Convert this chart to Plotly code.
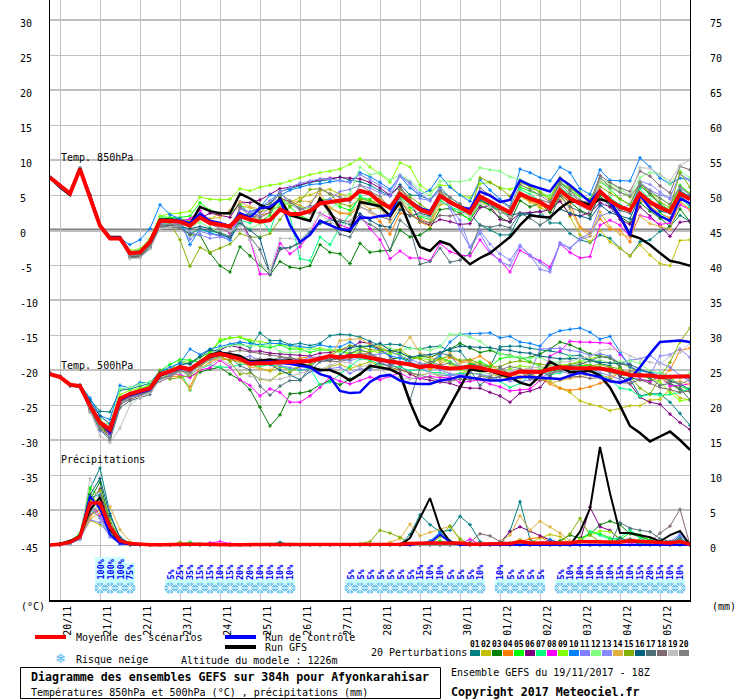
import plotly.graph_objects as go

MONO = "DejaVu Sans Mono"
COLORS = ["#008080","#c0c000","#008000","#ff8000","#00ff00","#800080","#00ff80","#ff00ff","#80ff00","#0080ff",
          "#8080ff","#80ff80","#8888ff","#e0b040","#80b000","#006080","#507078","#806870","#c0c0c0","#808080"]
DAY_LABELS = ["20/11","21/11","22/11","23/11","24/11","25/11","26/11","27/11","28/11","29/11","30/11","01/12","02/12","03/12","04/12","05/12"]
DAY_STEPS = [1,5,9,13,17,21,25,29,33,37,41,45,49,53,57,61]
LEFT_TICKS = [30,25,20,15,10,5,0,-5,-10,-15,-20,-25,-30,-35,-40,-45]
RIGHT_TICKS = [75,70,65,60,55,50,45,40,35,30,25,20,15,10,5,0]
HEAVY_GRID = [30,20,10,-10,-20,-30,-40]

# Temperature 850 hPa (degC), one value per 6 h step
T850_MEAN = [7.5,6.4,5.2,8.7,4.8,0.6,-1.2,-1.2,-3.3,-3.2,-1.7,1.3,1.3,1.2,0.6,1.8,1.0,0.7,0.5,2.0,1.5,1.2,1.4,2.9,2.3,2.3,2.7,3.8,4.0,4.2,4.4,5.6,5.2,
             4.0,3.2,5.2,4.0,2.9,2.4,4.9,4.0,3.2,2.5,4.8,4.0,3.2,2.5,5.2,4.5,4.0,3.1,5.7,4.5,3.8,3.1,5.5,4.2,3.3,2.8,5.2,4.0,3.2,2.6,5.2,4.4]
T850_GFS = [7.5,6.1,5.0,8.8,4.8,0.6,-1.0,-1.0,-3.2,-3.1,-1.6,1.5,1.5,1.3,0.8,3.3,2.7,2.4,2.4,5.2,4.5,3.6,3.0,4.5,2.1,1.7,1.3,4.5,2.6,0.2,-0.2,4.0,3.7,
            3.4,2.0,4.0,0.5,-2.4,-3.0,-1.6,-2.1,-3.6,-4.9,-4.0,-3.3,-2.1,-1.0,0.7,2.1,1.9,1.8,3.1,4.1,4.0,3.6,4.4,4.0,1.9,-0.7,-1.2,-2.1,-3.3,-4.4,-4.7,-5.1]
T850_CTRL = [7.5,6.2,5.1,8.7,4.9,0.7,-1.1,-1.1,-3.3,-3.2,-1.7,1.4,1.4,1.3,1.0,2.3,1.3,1.0,0.5,2.4,1.8,3.1,3.3,4.3,0.7,-1.7,-0.7,1.3,0.7,0.1,0.0,1.8,1.7,
             2.0,2.1,5.2,4.1,3.1,2.7,5.0,3.9,3.3,3.0,5.5,4.9,4.0,4.3,7.1,6.4,6.0,5.5,7.4,6.4,5.2,4.0,5.7,4.0,1.9,-0.7,5.0,3.1,2.0,1.3,4.5,3.8]
T850_HEAD = [7.6,6.3,5.3,8.9,5.0,0.7,-1.1,-1.2]
T850_M = {}
T850_M[1] = T850_HEAD + [-3.6,-3.5,-2.0,1.4,1.6,
    1.6,1.3,2.3,1.2,0.8,0.2,1.6,2.4,
    3.3,3.8,5.5,5.9,6.3,6.8,7.0,7.2,7.6,7.1,6.9,6.4,
    5.6,4.9,6.5,5.0,4.9,4.3,6.1,4.6,3.7,2.4,0.7,0.0,-0.7,-0.7,2.1,2.4,
    2.7,1.0,1.0,-0.5,-1.4,-1.8,-0.7,-1.2,-2.6,-3.7,-1.7,-1.4,-0.2,0.5,2.1,1.2]
T850_M[2] = T850_HEAD + [-3.2,-3.0,-1.5,1.5,1.5,
    1.4,1.4,2.0,1.5,2.4,2.3,3.4,3.2,
    2.6,2.9,3.3,4.0,4.6,5.0,5.6,5.8,5.1,4.9,4.2,3.9,
    4.4,3.3,4.3,2.7,1.1,0.6,3.6,3.9,3.4,2.7,4.1,3.4,2.5,2.6,4.8,4.0,
    3.2,2.6,4.3,1.9,-0.7,-1.7,0.0,-1.7,-2.6,-3.7,-2.1,-3.6,-4.8,-5.1,-1.5,-1.4]
T850_M[3] = T850_HEAD + [-3.8,-3.7,-2.3,0.8,0.6,
    0.4,-0.7,-0.7,-3.3,-5.1,-6.0,-2.4,-3.7,
    -5.0,-6.4,-4.5,-5.3,-5.5,-5.1,-2.1,-3.2,-3.4,-4.8,-1.9,-3.2,
    -3.0,-2.9,0.0,-1.0,-0.7,0.2,2.9,3.1,2.4,1.5,3.5,2.9,1.8,1.1,4.2,3.3,
    3.8,2.5,5.0,4.0,2.8,2.2,4.9,3.4,1.9,1.0,3.9,2.7,1.7,0.5,3.0,1.2]
T850_M[4] = T850_HEAD + [-3.4,-3.2,-1.8,1.0,1.1,
    1.2,1.0,1.9,0.9,0.6,0.4,2.4,1.9,
    2.1,2.5,4.4,4.1,3.5,2.8,4.5,3.1,2.4,2.2,3.4,2.6,
    1.2,-0.6,2.4,2.1,1.6,1.0,5.0,4.1,3.3,3.0,4.2,3.4,2.6,2.0,4.9,4.2,
    3.5,3.0,5.2,3.8,0.4,-0.4,1.6,0.1,0.0,-1.7,4.3,3.4,2.4,1.7,4.0,3.0]
T850_M[5] = T850_HEAD + [-3.3,-3.0,-1.4,1.9,1.8,
    1.8,2.0,3.9,2.8,2.4,2.4,3.7,2.3,
    1.2,2.1,4.8,3.3,2.1,1.4,4.3,4.4,3.3,2.8,4.6,4.4,
    3.2,2.0,4.6,3.2,1.9,1.5,4.1,3.3,2.3,1.5,4.2,3.5,2.7,2.0,6.1,5.6,5.0,4.9,6.7,5.6,
    4.8,4.4,6.9,5.9,4.4,3.6,6.4,5.0,3.8,2.8,6.4,5.2]
T850_M[6] = T850_HEAD + [-3.5,-3.4,-1.9,1.2,1.2,
    1.1,0.8,1.7,2.4,2.1,1.8,4.0,3.9,
    4.3,5.1,5.9,6.1,6.5,6.9,7.2,7.4,7.5,7.4,7.3,6.8,
    6.0,5.0,6.2,4.1,1.2,0.7,1.5,1.2,0.8,0.9,3.2,3.4,1.5,1.2,2.4,2.5,
    2.6,2.9,4.1,2.2,2.0,2.5,3.9,3.3,1.5,0.8,3.3,2.0,0.6,-0.9,1.1,1.3]
T850_M[7] = T850_HEAD + [-3.7,-3.5,-2.4,0.9,0.9,
    0.8,-0.4,0.0,-0.2,-0.4,-1.0,1.4,1.0,
    1.6,-0.1,3.9,2.0,-4.1,-4.4,-1.0,-2.1,0.4,2.3,4.9,3.9,
    3.1,2.2,4.8,3.7,2.1,1.8,4.4,3.3,2.8,2.0,4.4,3.6,2.9,2.2,5.8,5.1,
    4.2,3.2,6.1,5.0,3.9,2.7,5.1,4.6,3.6,2.9,5.9,4.3,2.5,1.2,4.9,3.2]
T850_M[8] = T850_HEAD + [-3.2,-3.1,-1.8,1.6,1.4,
    1.2,1.6,2.8,1.1,0.5,-0.5,1.8,-1.4,
    -6.3,-6.3,-1.9,-3.4,-2.4,-0.5,2.4,1.7,0.7,0.2,2.1,0.2,
    -1.4,-4.1,-3.0,-4.0,-4.0,-4.4,-1.9,-3.1,-3.6,-3.7,-1.4,-3.3,-4.3,-6.0,-2.9,-3.7,
    -4.4,-5.3,-2.0,-3.2,-4.0,-3.8,0.7,1.4,0.7,-1.0,2.1,1.7,0.8,1.0,3.6,2.9]
T850_M[9] = T850_HEAD + [-2.9,-2.7,-1.2,2.0,2.3,
    2.4,2.7,4.7,4.4,4.3,4.4,5.9,5.6,
    6.1,6.4,6.6,7.0,7.5,7.9,8.2,8.4,8.7,9.4,10.2,9.0,
    8.0,6.8,9.6,9.0,6.4,5.5,6.4,6.3,5.0,4.6,6.6,6.8,6.0,5.8,6.4,5.9,
    5.6,4.5,6.6,6.1,5.4,4.0,6.9,6.3,5.4,4.7,6.6,5.2,4.6,3.6,5.9,5.3]
T850_M[10] = T850_HEAD + [-2.1,-1.4,0.2,3.6,2.2,
    1.6,-2.1,0.2,-0.4,-0.8,-1.5,1.5,2.6,
    3.2,5.0,4.9,5.7,6.1,6.5,6.6,6.9,7.1,6.8,8.2,7.6,
    6.8,5.8,7.7,6.0,5.1,5.7,7.8,6.1,5.0,4.1,7.2,5.7,4.4,3.3,8.7,8.2,7.5,7.0,9.0,8.2,
    5.9,5.1,8.6,7.1,7.0,7.0,10.3,9.0,7.4,6.6,7.4,7.2]
T850_M[11] = T850_HEAD + [-3.6,-3.4,-2.0,0.9,0.7,
    0.5,-1.3,-0.2,-0.6,-0.8,-1.1,3.0,2.5,
    3.2,4.2,5.4,3.7,2.9,3.2,4.1,4.4,5.5,5.8,6.4,6.0,
    5.3,4.8,7.7,6.6,4.5,4.2,6.0,3.0,0.1,-2.5,-0.5,-3.0,-4.5,-5.1,-2.3,-3.6,
    -4.6,-5.7,-1.8,-2.6,-1.2,-0.5,3.4,3.9,3.2,2.7,6.8,5.7,5.0,4.6,8.0,7.1]
T850_M[12] = T850_HEAD + [-3.1,-2.9,-1.5,1.7,1.6,
    1.0,0.4,1.1,0.3,-0.4,-1.0,1.1,0.2,
    0.9,1.6,4.1,3.6,3.3,3.0,2.2,2.9,4.2,5.2,9.0,7.9,
    8.2,7.1,7.9,7.0,5.7,4.9,7.0,6.9,6.9,7.2,8.9,8.6,8.4,7.6,7.2,6.5,
    5.4,4.8,7.0,5.8,5.0,4.0,7.3,6.7,5.8,5.0,7.5,8.2,8.0,6.5,8.5,7.4]
T850_M[13] = T850_HEAD + [-3.4,-3.3,-2.0,1.0,1.0,
    0.9,-0.4,-0.7,-1.2,-1.0,-1.3,3.3,2.5,
    2.0,3.2,5.4,6.1,6.7,7.0,7.3,7.3,7.0,6.8,7.9,7.2,
    6.4,5.5,7.8,6.8,5.2,4.2,5.7,3.3,1.4,-2.4,-0.1,-2.0,-3.4,-4.3,-2.2,-3.6,
    -5.6,-6.0,-2.0,-2.6,-1.4,-0.9,2.0,2.5,3.0,3.7,7.0,6.5,5.4,4.4,6.0,5.1]
T850_M[14] = T850_HEAD + [-3.3,-3.2,-1.8,1.1,1.0,
    1.1,1.2,2.1,1.6,1.8,2.8,4.0,3.3,
    3.0,3.1,4.6,3.9,4.2,4.0,5.2,3.2,2.5,2.4,3.9,3.0,
    3.2,1.1,3.3,2.5,1.2,0.5,4.6,3.8,3.0,2.4,4.4,3.8,2.9,2.2,5.0,4.5,
    3.7,3.2,4.9,3.0,0.2,-0.8,2.6,0.4,-0.6,-1.0,2.0,0.9,0.5,0.1,4.0,2.9]
T850_M[15] = T850_HEAD + [-3.5,-3.3,-1.7,1.2,1.0,
    -1.4,-5.2,-2.5,-3.2,-2.6,-2.0,-0.5,-1.0,
    -1.0,-0.5,1.5,3.4,4.1,5.8,5.9,5.1,3.8,3.4,4.4,4.2,
    3.6,3.0,5.8,4.7,3.7,2.7,5.5,4.2,3.0,2.2,7.5,6.8,6.0,4.8,6.8,6.2,
    5.4,4.3,7.5,6.0,5.0,4.3,6.2,5.3,4.5,3.6,6.8,5.2,4.0,3.2,8.2,6.1]
T850_M[16] = T850_HEAD + [-3.8,-3.9,-2.5,0.5,0.6,
    0.5,0.2,0.5,0.2,-0.6,-1.1,0.9,0.0,
    -1.2,-6.2,-2.6,-2.5,-1.7,-0.2,0.9,1.4,1.2,0.8,2.3,1.4,
    0.6,0.4,2.9,2.0,2.4,2.0,4.9,3.7,3.2,2.7,4.3,3.6,2.5,2.1,2.4,2.2,
    2.1,1.8,3.0,2.4,2.0,1.6,3.6,2.5,2.0,1.6,5.0,3.8,2.7,2.4,5.6,4.8]
T850_M[17] = T850_HEAD + [-4.0,-3.9,-2.6,0.4,0.4,
    0.3,-0.6,0.2,-0.1,-0.4,-0.9,1.6,-1.0,
    -2.8,-6.3,-2.8,-2.5,-1.9,-0.5,1.3,0.9,-0.6,-1.0,1.6,0.8,
    0.0,-2.9,1.4,0.2,-4.9,-4.5,-2.6,-4.6,-4.3,-3.3,0.7,0.4,0.7,0.3,2.4,1.7,
    0.7,1.6,4.9,3.3,2.6,2.0,5.3,3.9,2.8,2.4,6.3,5.2,3.6,2.7,5.0,3.6]
T850_M[18] = T850_HEAD + [-3.9,-3.8,-2.2,0.6,0.5,
    0.8,0.6,1.7,0.9,0.2,-0.3,3.3,2.0,
    1.8,2.5,4.6,4.0,3.1,2.4,4.2,2.3,1.4,1.2,3.3,2.7,
    1.9,1.5,4.3,2.2,1.3,1.0,2.1,2.0,2.3,2.9,4.8,3.7,2.9,1.6,4.9,4.5,
    4.3,3.9,6.9,5.7,4.2,3.9,7.8,6.8,6.0,5.5,8.4,7.7,6.3,5.3,9.1,8.6]
T850_M[19] = T850_HEAD + [-4.1,-4.0,-2.7,0.2,0.4,
    0.6,1.0,2.0,0.8,0.4,-0.2,0.6,-1.4,
    -4.8,-6.0,-1.2,-1.2,-1.5,0.1,2.2,1.3,0.3,1.1,3.4,2.6,
    1.9,2.0,4.2,3.5,2.2,1.7,3.9,3.6,3.0,1.9,3.8,3.3,2.6,1.9,5.4,4.9,
    3.9,3.0,6.0,4.4,3.4,2.7,7.0,6.1,5.3,5.0,8.9,8.8,7.9,7.0,9.2,10.0]
T850_M[20] = T850_HEAD + [-3.7,-3.6,-2.2,0.7,0.8,
    0.7,0.9,2.2,1.4,1.0,0.7,2.1,1.4,
    2.5,3.7,5.2,4.2,2.9,3.5,5.9,5.2,4.7,4.0,6.4,5.5,
    4.8,3.1,6.0,4.3,3.3,2.6,5.6,4.7,3.7,2.6,6.0,5.0,4.1,3.2,6.5,5.7,
    5.0,4.0,6.5,5.2,4.2,3.4,7.5,6.2,5.4,4.8,6.6,5.6,4.5,3.7,6.2,5.0]

# Temperature 500 hPa (degC)
T500_MEAN = [-20.6,-21.0,-22.1,-22.3,-25.1,-27.5,-28.5,-24.1,-23.4,-23.0,-22.6,-20.6,-20.2,-19.6,-19.9,-18.9,-18.0,-17.7,-18.0,-18.4,-19.1,-19.1,-19.0,-18.9,-18.9,-18.8,-18.7,-18.4,-18.0,-18.2,-18.0,-18.0,-18.3,
             -18.6,-18.8,-19.0,-19.2,-19.6,-19.4,-19.6,-19.8,-19.7,-19.5,-19.7,-20.0,-20.3,-20.7,-20.2,-20.2,-20.3,-19.9,-19.6,-19.7,-19.7,-19.8,-19.8,-20.0,-20.3,-20.7,-20.8,-20.8,-21.0,-21.0,-21.0,-20.9]
T500_GFS = [-20.6,-21.0,-22.2,-22.4,-25.2,-27.6,-28.8,-24.3,-23.5,-23.1,-22.7,-20.8,-20.3,-19.7,-19.9,-18.8,-17.8,-17.5,-17.7,-18.0,-18.8,-18.6,-18.5,-18.7,-18.6,-19.1,-19.6,-20.0,-20.0,-20.6,-21.5,-20.6,-19.4,
            -19.6,-19.9,-20.6,-24.6,-27.9,-28.7,-27.7,-25.1,-22.7,-19.9,-20.1,-20.1,-20.6,-21.0,-21.8,-22.2,-20.8,-18.8,-19.6,-20.3,-20.3,-20.1,-20.8,-22.5,-25.1,-28.0,-29.0,-30.2,-29.5,-28.8,-30.0,-31.4]
T500_CTRL = [-20.6,-21.0,-22.1,-22.3,-25.0,-27.4,-28.9,-24.3,-23.6,-23.2,-22.8,-20.7,-20.3,-19.8,-19.8,-18.9,-18.1,-17.8,-18.0,-18.4,-18.9,-18.9,-18.8,-19.0,-19.1,-19.4,-19.6,-20.6,-21.0,-23.0,-23.3,-23.2,-21.7,
             -20.9,-20.7,-21.5,-21.9,-22.0,-22.0,-21.5,-21.3,-20.9,-21.1,-21.3,-21.5,-21.5,-21.2,-21.0,-21.0,-21.1,-21.2,-21.3,-20.8,-20.4,-20.7,-21.0,-21.6,-21.8,-21.3,-19.6,-17.7,-16.0,-15.9,-15.8,-16.0]
T500_HEAD = [-20.4,-20.9,-22.2,-22.1]
T500_M = {}
T500_M[1] = T500_HEAD + [-24.2,-25.9,-26.0,-22.9,-22.7,-22.3,-21.9,-20.1,-19.9,-18.9,-19.2,-18.2,-17.4,
    -17.0,-16.5,-16.2,-16.8,-14.7,-15.8,-15.8,-16.4,-16.2,-16.5,-16.2,-15.1,-14.9,-15.0,-15.3,-15.9,
    -16.5,-16.3,-16.4,-16.9,-17.0,-16.7,-16.6,-17.3,-17.3,-19.1,-19.4,-19.5,-16.7,-16.6,-16.6,-16.9,
    -17.1,-17.2,-17.5,-18.0,-17.9,-18.6,-19.1,-19.4,-21.0,-21.3,-23.7,-23.4,-23.4,-24.6,-26.2,-27.9,-27.7,-26.5]
T500_M[2] = T500_HEAD + [-25.5,-28.0,-29.0,-24.4,-23.6,-23.3,-22.9,-21.0,-20.4,-20.2,-20.3,-19.4,-18.5,
    -18.3,-18.6,-18.8,-19.1,-19.8,-20.2,-19.6,-19.9,-19.5,-19.5,-20.2,-19.5,-19.2,-19.8,-19.3,-18.8,
    -19.4,-19.9,-20.0,-20.5,-20.8,-20.4,-20.9,-20.7,-20.5,-20.0,-20.2,-20.6,-20.9,-21.2,-21.2,-20.7,
    -21.4,-21.6,-22.6,-23.2,-24.4,-24.9,-25.2,-25.8,-25.5,-25.1,-25.1,-24.3,-24.2,-22.7,-24.0,-24.3,-24.7,-25.0]
T500_M[3] = T500_HEAD + [-25.3,-27.9,-29.5,-24.6,-23.9,-23.6,-23.1,-21.2,-20.8,-20.0,-20.9,-20.3,-19.9,
    -19.6,-20.6,-21.4,-22.8,-25.3,-28.0,-26.4,-23.4,-23.3,-23.0,-22.1,-21.5,-22.1,-21.3,-20.6,-19.8,
    -18.9,-18.5,-18.2,-18.6,-18.0,-18.2,-17.6,-17.0,-16.2,-16.9,-17.5,-17.2,-17.7,-17.9,-18.3,-18.2,
    -17.7,-17.0,-16.0,-16.4,-17.0,-17.7,-18.0,-18.2,-19.6,-21.1,-21.4,-21.5,-21.0,-22.0,-22.8,-23.1,-24.5,-24.2]
T500_M[4] = T500_HEAD + [-25.8,-28.3,-29.4,-25.0,-23.9,-23.3,-22.4,-21.3,-20.9,-20.9,-22.4,-19.4,-18.5,
    -18.6,-18.4,-18.8,-18.9,-18.8,-19.0,-18.6,-18.9,-18.3,-18.1,-18.5,-18.0,-18.4,-17.9,-17.7,-17.6,
    -18.6,-18.7,-19.0,-19.3,-19.1,-19.9,-19.2,-18.2,-18.8,-18.6,-18.0,-19.0,-20.3,-21.4,-21.0,-20.5,
    -21.2,-22.0,-22.6,-22.9,-22.7,-22.4,-21.9,-21.5,-20.2,-20.6,-20.8,-20.7,-21.2,-20.0,-17.2,-16.9,-16.4,-16.1]
T500_M[5] = T500_HEAD + [-24.8,-27.1,-28.4,-24.0,-23.3,-22.7,-22.1,-20.1,-19.2,-18.5,-18.6,-18.9,-17.5,
    -15.9,-15.4,-15.3,-15.9,-16.6,-16.8,-16.4,-17.0,-17.0,-17.5,-17.1,-17.2,-17.1,-17.9,-16.7,-16.5,
    -16.9,-17.4,-17.9,-19.3,-19.5,-19.5,-18.2,-18.8,-19.6,-19.2,-18.8,-19.5,-18.4,-18.1,-18.2,-18.8,
    -19.5,-20.2,-20.0,-19.5,-19.4,-19.3,-19.6,-20.2,-20.8,-20.6,-20.8,-21.1,-21.0,-21.0,-22.3,-22.9,-24.5,-22.7]
T500_M[6] = T500_HEAD + [-25.0,-27.9,-29.2,-24.3,-23.7,-23.1,-22.5,-20.9,-20.4,-19.7,-19.8,-19.1,-18.0,
    -17.1,-16.5,-16.8,-17.3,-17.3,-17.6,-17.7,-17.8,-17.9,-18.0,-17.6,-17.5,-17.1,-16.9,-16.0,-16.2,
    -17.1,-18.0,-19.3,-20.6,-21.2,-21.5,-21.7,-21.9,-22.4,-22.6,-22.6,-23.2,-23.7,-24.6,-23.3,-23.0,
    -22.5,-20.8,-19.3,-20.5,-20.4,-20.1,-19.8,-19.9,-20.8,-22.0,-23.9,-24.6,-24.9,-26.3,-27.5,-28.5,-28.6,-27.5]
T500_M[7] = T500_HEAD + [-25.6,-28.6,-29.6,-24.8,-23.8,-23.2,-22.8,-21.4,-20.6,-20.2,-22.9,-19.8,-19.3,
    -19.6,-19.6,-19.2,-19.2,-19.5,-19.2,-19.5,-19.9,-20.1,-19.7,-22.2,-21.7,-20.6,-19.5,-18.4,-18.6,
    -19.2,-19.4,-19.6,-20.1,-19.9,-20.3,-20.4,-20.7,-20.5,-20.5,-20.5,-21.1,-21.6,-22.5,-21.9,-20.8,
    -20.0,-20.7,-20.4,-19.8,-20.0,-19.9,-20.6,-21.3,-22.6,-22.8,-23.8,-23.5,-23.6,-23.5,-23.2,-22.6,-23.1,-23.8]
T500_M[8] = T500_HEAD + [-25.1,-27.8,-29.0,-24.3,-23.5,-22.9,-22.5,-20.7,-20.5,-20.7,-21.1,-20.0,-19.7,
    -18.6,-19.6,-21.4,-22.2,-23.7,-22.7,-23.2,-24.6,-24.6,-23.7,-22.5,-21.0,-21.6,-22.0,-21.5,-21.0,
    -21.4,-20.9,-20.4,-21.2,-21.2,-20.9,-21.1,-21.0,-21.8,-21.6,-21.4,-22.0,-22.4,-23.0,-22.8,-22.7,
    -21.5,-18.0,-17.3,-15.9,-16.0,-16.0,-16.1,-16.2,-17.8,-19.3,-21.3,-21.7,-20.9,-22.3,-22.2,-22.0,-20.8,-20.2]
T500_M[9] = T500_HEAD + [-25.0,-27.4,-28.4,-23.5,-22.9,-22.6,-22.3,-20.3,-20.0,-18.8,-18.9,-18.2,-17.6,
    -15.6,-15.4,-15.3,-15.7,-16.0,-16.2,-16.3,-16.6,-16.9,-16.8,-16.9,-17.1,-17.3,-17.6,-17.4,-17.3,
    -17.5,-17.7,-17.6,-18.3,-18.2,-18.6,-18.4,-19.2,-19.9,-20.5,-20.6,-21.3,-20.9,-19.8,-19.4,-19.6,
    -19.7,-19.6,-19.3,-19.2,-18.7,-18.4,-18.0,-18.3,-18.9,-19.6,-20.7,-21.2,-21.7,-23.2,-24.4,-24.2,-23.3,-21.4]
T500_M[10] = T500_HEAD + [-24.0,-26.5,-27.1,-22.2,-22.6,-21.8,-21.8,-20.2,-19.6,-19.0,-17.0,-17.8,-17.0,
    -16.6,-16.3,-16.0,-16.2,-16.4,-16.2,-16.2,-16.5,-16.6,-16.8,-16.4,-16.7,-16.7,-16.0,-16.8,-16.6,
    -17.2,-18.0,-18.3,-18.9,-19.4,-19.1,-18.0,-16.0,-14.9,-14.8,-14.8,-14.7,-15.4,-15.2,-16.0,-16.2,
    -16.6,-15.0,-14.4,-14.2,-14.0,-14.6,-15.6,-15.2,-17.5,-19.6,-20.1,-20.4,-20.4,-20.9,-21.0,-21.2,-21.3,-20.5]
T500_M[11] = T500_HEAD + [-25.4,-27.5,-28.6,-24.5,-23.8,-23.1,-22.6,-20.5,-19.9,-19.9,-20.2,-19.2,-18.3,
    -17.9,-18.2,-18.4,-18.8,-18.9,-18.8,-19.4,-19.7,-19.9,-20.1,-20.2,-19.8,-19.6,-20.5,-19.8,-20.0,
    -18.9,-19.4,-18.8,-19.0,-19.7,-20.4,-20.7,-20.8,-20.7,-21.0,-21.3,-21.4,-20.9,-20.3,-20.2,-20.5,
    -17.0,-17.0,-16.9,-17.2,-17.4,-17.9,-17.7,-18.0,-19.1,-18.6,-18.4,-17.9,-19.0,-19.6,-20.8,-21.6,-21.4,-21.2]
T500_M[12] = T500_HEAD + [-24.7,-27.4,-27.8,-22.7,-22.5,-22.0,-21.7,-20.8,-20.4,-19.9,-19.9,-19.0,-18.1,
    -16.9,-16.5,-16.4,-16.6,-16.5,-16.4,-17.4,-17.5,-17.4,-17.0,-17.2,-17.0,-17.5,-17.2,-16.8,-16.5,
    -16.4,-16.9,-17.2,-16.9,-17.0,-17.2,-16.7,-14.9,-14.9,-15.3,-15.9,-16.9,-17.7,-18.0,-18.2,-18.3,
    -18.2,-18.9,-18.8,-18.0,-18.7,-18.8,-18.6,-19.0,-18.9,-18.7,-19.0,-20.2,-20.4,-20.9,-21.1,-20.4,-19.0,-18.8]
T500_M[13] = T500_HEAD + [-25.7,-28.7,-29.4,-24.9,-24.0,-23.5,-22.8,-21.4,-20.7,-19.7,-20.5,-19.2,-18.6,
    -18.0,-17.8,-18.3,-18.0,-18.6,-18.9,-18.5,-18.2,-18.7,-18.2,-18.1,-18.2,-18.4,-18.7,-18.2,-17.9,
    -17.7,-17.3,-18.0,-18.5,-19.0,-19.3,-20.0,-20.5,-20.8,-20.4,-20.7,-20.9,-21.4,-21.6,-21.7,-21.4,
    -21.1,-20.5,-20.2,-20.5,-20.0,-19.8,-20.4,-20.8,-21.4,-21.9,-20.9,-20.7,-18.0,-17.8,-17.0,-18.2,-18.6,-18.8]
T500_M[14] = T500_HEAD + [-25.2,-27.7,-28.8,-24.7,-23.8,-23.2,-22.9,-21.0,-20.0,-20.9,-22.8,-19.8,-18.9,
    -18.2,-17.9,-18.7,-19.6,-19.8,-20.0,-19.1,-18.5,-18.9,-18.6,-18.3,-18.1,-15.8,-15.6,-15.5,-16.4,
    -16.7,-17.4,-17.1,-15.3,-17.6,-18.1,-18.8,-17.6,-19.0,-18.8,-19.4,-19.9,-19.9,-20.5,-20.9,-21.0,
    -20.9,-21.9,-21.5,-21.2,-21.0,-20.7,-20.9,-21.0,-20.3,-20.1,-20.6,-20.7,-21.2,-21.8,-21.6,-22.1,-21.4,-20.7]
T500_M[15] = T500_HEAD + [-25.5,-28.1,-28.9,-24.2,-23.4,-22.8,-22.4,-20.0,-21.3,-21.0,-20.8,-19.6,-18.4,
    -18.0,-18.8,-20.6,-20.4,-21.3,-21.5,-20.5,-20.3,-19.5,-19.2,-18.6,-17.9,-17.1,-16.5,-16.7,-17.1,
    -17.2,-17.3,-17.1,-18.1,-18.4,-19.1,-18.4,-18.0,-18.6,-18.5,-19.1,-19.6,-19.5,-18.9,-18.7,-18.9,
    -19.2,-19.3,-19.6,-19.2,-18.9,-19.4,-19.2,-19.6,-19.8,-20.9,-22.6,-23.5,-21.0,-18.9,-16.0,-14.0,-11.8,-12.0]
T500_M[16] = T500_HEAD + [-24.5,-26.6,-27.7,-24.1,-23.4,-23.0,-22.9,-20.4,-20.2,-19.3,-19.0,-18.1,-17.1,
    -17.4,-17.8,-18.5,-18.5,-19.0,-19.2,-20.0,-20.7,-21.4,-20.2,-18.8,-18.6,-17.9,-16.8,-16.6,-16.6,
    -16.2,-17.2,-17.5,-18.2,-17.9,-17.8,-17.5,-17.0,-16.6,-16.7,-16.8,-16.8,-17.1,-17.2,-17.5,-17.6,
    -18.0,-18.2,-18.4,-18.4,-18.3,-18.6,-18.9,-19.0,-19.1,-19.2,-19.9,-20.4,-20.9,-21.6,-22.0,-22.8,-23.0,-23.3]
T500_M[17] = T500_HEAD + [-26.0,-28.5,-30.0,-25.4,-24.4,-24.0,-23.5,-21.1,-20.9,-19.8,-19.8,-18.8,-18.0,
    -17.8,-18.2,-19.4,-20.0,-22.3,-23.6,-22.3,-21.5,-21.5,-19.6,-18.3,-18.6,-18.4,-17.6,-17.1,-17.6,
    -18.4,-19.2,-19.9,-24.3,-19.7,-19.2,-17.6,-17.9,-19.6,-20.0,-22.2,-21.0,-19.6,-20.7,-20.0,-20.8,
    -20.2,-20.9,-19.5,-19.4,-19.2,-18.7,-18.1,-18.3,-19.1,-19.4,-20.5,-21.2,-22.2,-21.9,-22.6,-24.3,-23.7,-24.4]
T500_M[18] = T500_HEAD + [-25.3,-27.5,-28.9,-24.9,-24.2,-23.7,-22.9,-21.6,-21.1,-20.1,-20.3,-18.9,-18.3,
    -17.9,-17.4,-17.2,-17.4,-17.6,-17.9,-18.1,-18.2,-18.5,-18.7,-18.7,-18.7,-18.8,-18.4,-18.0,-18.2,
    -19.0,-19.6,-20.0,-20.4,-20.8,-21.1,-21.5,-21.6,-21.3,-21.4,-20.9,-21.1,-21.0,-20.5,-20.2,-21.2,
    -21.5,-21.2,-21.4,-21.0,-20.9,-21.2,-21.1,-21.4,-21.8,-21.9,-21.4,-21.9,-22.5,-22.8,-23.2,-23.0,-23.6,-23.8]
T500_M[19] = T500_HEAD + [-25.8,-29.4,-30.4,-28.3,-25.0,-23.9,-23.2,-21.5,-21.0,-20.2,-20.6,-19.7,-19.2,
    -18.4,-19.3,-20.1,-20.9,-21.2,-21.4,-21.3,-20.9,-20.4,-20.1,-19.9,-19.3,-18.8,-19.0,-19.6,-19.2,
    -19.9,-20.8,-21.0,-21.3,-20.9,-20.4,-20.7,-19.9,-19.3,-19.7,-20.1,-20.6,-20.6,-20.3,-20.1,-19.7,
    -19.6,-19.5,-18.9,-18.8,-18.3,-18.1,-17.2,-17.0,-17.2,-18.0,-18.5,-18.9,-19.2,-18.0,-17.5,-16.2,-16.0,-15.9]
T500_M[20] = T500_HEAD + [-25.6,-28.2,-29.7,-24.6,-23.8,-23.4,-23.0,-21.2,-20.9,-20.1,-20.4,-19.2,-18.2,
    -17.8,-17.9,-18.3,-18.5,-18.4,-18.7,-18.2,-18.4,-18.7,-18.9,-18.6,-18.2,-18.6,-18.0,-17.6,-17.9,
    -18.3,-18.6,-19.2,-19.0,-19.4,-18.8,-19.3,-19.0,-19.6,-19.7,-19.4,-20.2,-20.0,-19.5,-19.8,-20.3,
    -20.2,-20.5,-20.1,-19.9,-20.1,-19.6,-19.8,-20.4,-20.6,-20.2,-20.5,-20.8,-21.2,-21.4,-22.0,-21.4,-21.8,-22.4]

# Precipitation (mm)
RAIN_MEAN = [0.0,0.1,0.4,1.2,6.0,6.0,2.6,0.6,0.2,0.1,0.05,0.05,0.1,0.1,0.1,0.1,0.05,0.1,0.05,0.05,0.05,0.1,0.1,0.05,0.1,0.1,0.05,0.0,0.0,0.1,0.0,0.05,
             0.05,0.05,0.1,0.1,0.2,0.3,0.3,0.3,0.3,0.3,0.1,0.1,0.2,0.2,0.2,0.5,0.3,0.3,0.3,0.3,0.3,0.5,0.5,0.5,0.4,0.4,0.6,0.5,0.4,0.3,0.3,0.5,0.1]
RAIN_GFS = [0.0,0.2,0.6,1.3,5.0,6.8,2.2,0.4,0.1,0,0,0,0,0,0,0,0,0,0,0,0,0,0,0,0,0,0,0,0,0,0,0,
            0,0,0,0,1.0,3.8,6.7,2.4,0.5,0.1,0,0,0,0,0,0,0,0,0,0,0,1.9,5.2,14.0,7.4,1.7,1.7,1.4,1.1,0.5,1.4,2.0,0.0]
RAIN_CTRL = [0.0,0.1,0.3,1.1,7.0,5.2,1.5,0.2,0.1,0,0,0,0,0,0,0,0,0,0,0,0,0,0,0,0,0,0,0,0,0,0,0,
             0,0,0,0,0,0.2,0.3,1.5,0.4,0,0,0,0,0,0,0,0,0,0,0,0,0,0,0,0,0,0,0,0,0,0,0,0]
RAIN_M = {}
RAIN_M[1]  = [0,0.1,0.4,1.4,8.0,11.0,4.5,1.0,0.2,0,0,0,0,0,0,0,0,0,0,0,0,0,0.1,0.4,0.1,0,0,0,0,0,0,0,0,0,0,0.1,1.5,4.3,2.9,1.9,2.1,4.1,2.9,0.5,0,0,2.0,6.2,0.8,0,0,0,0,0,0,0,0,0,0,0,0,0,0,0,0]
RAIN_M[2]  = [0,0.1,0.2,1.0,3.5,2.9,1.6,0.4,0,0,0,0,0,0,0,0,0,0,0,0,0,0,0,0,0,0,0,0,0,0,0,0,0,0,0,0,0,0,0,0,0,0,0,0,0,0,0.2,0.8,0.3,1.0,1.5,1.2,0.2,0,0,0,0,0,0,0,0,0,0,0,0]
RAIN_M[3]  = [0,0.1,0.5,1.5,6.5,9.0,3.1,0.8,0.1,0,0,0,0,0,0,0,0,0,0,0,0,0,0,0,0,0,0,0,0,0,0,0,0,0,0.1,0,0,0,0,0,0,0,0,0,0,0,0,0,0,0,0.2,0.6,1.4,1.0,1.5,2.9,3.4,2.9,1.6,1.2,0.7,0.3,0.4,1.0,0]
RAIN_M[4]  = [0,0,0.3,1.0,4.2,5.0,2.0,0.5,0.1,0,0,0,0,0,0,0,0,0,0,0,0,0,0,0,0,0,0,0,0,0,0,0,0,0,0,0,0,0,0,0,0,0,0,0,0,0,0,0.4,0.9,1.1,0.5,0.2,0,0,0,0,0,0,0,0,0,0,0,0,0]
RAIN_M[5]  = [0,0.2,0.5,1.7,8.2,6.6,2.2,0.3,0,0,0,0,0,0.1,0.4,0,0,0,0,0,0,0,0,0,0,0,0,0,0,0,0,0,0,0,0,0,0,0,0,0.6,0.2,0,0,0,0,0,0,0,0,0,0,0,0,0.5,1.9,1.6,1.0,0.7,1.8,1.5,0.6,0.2,0.3,0,0]
RAIN_M[6]  = [0,0.1,0.3,1.2,6.0,8.0,2.5,0.6,0.1,0,0,0,0,0,0,0,0,0,0,0,0,0,0,0,0,0,0,0,0,0,0,0,0,0,0,0,0,0,0,0,0,0,0,0,0,0.4,1.9,2.6,2.0,1.3,0.7,0.3,0,0.5,5.4,2.6,2.1,0.7,0.4,0.2,0,0,0,0,0]
RAIN_M[7]  = [0,0.1,0.2,0.9,5.0,4.0,1.5,0.4,0,0,0,0,0,0,0.3,0.2,0,0,0,0,0,0,0,0,0,0,0,0,0,0,0,0,0,0,0,0,0,0,0,0,0,0,0,0,0,0,0,0,0,0,0,0,0,0.4,1.9,1.4,0.8,1.0,2.2,1.0,0.4,0.1,0,0,0]
RAIN_M[8]  = [0,0.1,0.4,1.1,5.8,4.2,1.7,0.2,0,0,0,0,0,0,0,0,0.3,0.5,0.2,0,0,0,0,0,0,0,0,0,0,0,0,0,0.1,0,0,0,0,0,0,0,0,0.2,0.8,0.1,0,0,0,0,0,0,0,0,0,0,0,0,0,0,0.2,0.4,0,0,0,0,0]
RAIN_M[9]  = [0,0.1,0.3,1.2,7.5,5.5,1.9,0.3,0,0,0,0,0,0,0,0,0,0,0,0,0,0,0,0,0,0,0,0,0,0,0,0,0,0,0,0,0,0,0,0,0,0,0,0,0,0,0,0,0,0,0,0,0,0.8,1.4,2.0,1.9,1.0,0.6,0.3,0,0,0,0,0]
RAIN_M[10] = [0,0.1,0.2,1.0,6.8,7.2,1.6,0.1,0,0,0,0,0,0,0,0,0,0,0,0,0,0,0,0,0,0,0,0,0,0,0,0,0,0,0,0,0,0.2,0.6,1.8,0.6,0,0,0,0,0,0,0,0,0,0.8,0.3,0,0,0,0,0,0,0,0,0,0,0,1.4,0]
RAIN_M[11] = [0,0,0.2,0.8,3.6,3.2,1.3,0.3,0,0,0,0,0,0,0,0,0,0,0,0,0,0,0,0,0,0,0,0,0,0,0,0,0,0,0,0,0,0,0,0,0,0,0,0,0,0,0,0,0,0,0,0,0,0,0,0,0,0,0,0,0,0.3,0.5,1.5,0.1]
RAIN_M[12] = [0,0.1,0.3,1.1,4.5,6.5,2.4,0.5,0.1,0,0,0,0,0,0,0,0,0,0,0,0,0,0,0,0,0,0,0,0,0,0,0,0,0,0,0,0,0,0,0,0,0,0,0,0,0,0,0,0,0,0,0,0,0,0,0.4,0.6,0.5,0.9,0.7,0.2,0,0,0,0]
RAIN_M[13] = [0,0,0.2,0.9,5.4,3.8,1.1,0.2,0,0,0,0,0,0,0,0,0,0,0,0,0,0,0,0,0,0,0,0,0,0,0,0,0,0,0,0,0,0,0,0,0,0,0,0,0,0,0,0.4,0.2,0,0,0,0,0,0,0,0,0,0,0,0,0,0.2,0.7,0]
RAIN_M[14] = [0,0.1,0.3,1.0,3.8,4.5,5.5,2.2,0.5,0,0,0,0,0,0,0,0,0,0,0,0,0,0,0,0,0,0,0,0,0,0,0,0,0,0.4,0.9,3.0,1.3,1.8,2.3,2.7,0.7,0.1,0,0,0.5,1.4,4.2,2.1,3.4,2.6,1.7,0.6,0,0,0,0,0,0,0,0,0,0,0,0]
RAIN_M[15] = [0,0.1,0.4,1.3,6.2,7.8,3.6,0.8,0.1,0,0,0,0,0.4,0.1,0,0,0,0,0,0,0,0,0,0,0,0,0,0,0,0,0.2,0.5,2.1,1.7,1.1,0.2,0,0,1.2,2.7,0.9,0,0,0,0,0,0,0,0,0,0.4,1.6,3.8,1.4,0.5,0,0,0,0,0,0,0,0,0]
RAIN_M[16] = [0,0.1,0.4,1.5,7.2,9.5,4.2,1.1,0.2,0,0,0,0,0,0,0,0,0,0,0,0,0,0,0,0,0,0,0,0,0,0,0,0,0,0,0,0,0,0,0,0,0,0,0,0,0,0,0,0,0,0,0,0,0,0,0,0,1.0,0.5,0.2,0,0,0,0,0]
RAIN_M[17] = [0,0.1,0.3,1.2,5.1,7.0,3.0,0.7,0.1,0,0,0,0,0,0,0,0,0,0,0,0,0,0,0,0,0,0,0,0,0,0,0,0,0,0,0,0,0,0,0,0,0,0,0,0,0,0,0,0,0,0,0,0,0,0,0,0,3.2,2.4,2.1,1.9,0.9,0.5,0.9,0]
RAIN_M[18] = [0,0,0.2,0.9,4.4,5.2,2.1,0.4,0,0,0,0,0,0,0,0,0,0,0,0,0,0,0,0,0,0,0,0,0,0,0,0,0,0.1,0,0,0,0,0,0,0,0,0.4,1.6,1.3,0.5,0.3,0.2,0,0,0,0,0,0,0,0,0,0,0,0,0.4,1.7,2.7,5.1,0]
RAIN_M[19] = [0,0.1,0.2,1.0,9.5,6.1,2.7,0.6,0.1,0,0,0,0,0,0,0,0,0,0,0,0,0,0,0,0,0,0,0,0,0,0,0,0,0,0,0,0,0,0,0,0,0,0,0,0,0,0,0,0,0,0,0.2,0.5,0.4,0.3,0.1,0,0,0,0,0,0,0,0,0]
RAIN_M[20] = [0,0.1,0.3,1.1,4.8,5.6,2.2,0.5,0,0,0,0,0,0,0,0,0,0,0,0,0,0,0,0,0,0,0,0,0,0,0,0,0,0,0,0,0,0,0,0,0,0,0,0,0,0,0.1,0.4,0.2,0,0,0,0,0,0,0,0.2,0.7,0.9,0.4,0.1,0,0,0.3,0]

# Snow risk (%)
SNOW_STEPS = [5,6,7,8,
              12,13,14,15,16,17,18,19,20,21,22,23,24,
              30,31,32,33,34,35,36,37,38,39,40,41,42,43,
              45,46,47,48,49,
              51,52,53,54,55,56,57,58,59,60,61,62,63]
SNOW_PCT = [100,100,100,75,
            5,25,35,15,15,10,15,20,20,10,10,10,10,
            5,5,5,5,5,5,5,15,10,10,5,5,5,10,
            10,5,5,5,5,
            5,10,10,10,10,10,15,10,15,20,15,10,10]
SNOW_BAR_PX = [28,28,28,22,
               6,6,6,6,6,6,6,6,6,6,6,6,6,
               6,6,6,6,6,6,6,6,6,6,6,6,6,6,
               6,6,6,6,6,
               6,6,6,6,6,6,6,6,6,6,6,6,6]

# ---- geometry of the picture -----
PLOT_L, PLOT_R, PLOT_T, PLOT_B = 50, 690, 0, 600
PX_PER_DEG = 7.0
Y_ZERO_PX = 230.0
def deg(y_px):
    return (Y_ZERO_PX - y_px) / PX_PER_DEG
def px(x):
    return (x - PLOT_L) / (PLOT_R - PLOT_L)
def py(y):
    return (PLOT_B - y) / (PLOT_B - PLOT_T)

fig = go.Figure()
steps = list(range(65))

def member(y, c, axis="y"):
    fig.add_trace(go.Scatter(x=steps[:len(y)], y=y, yaxis=axis, mode="lines+markers", showlegend=False, hoverinfo="skip",
                             line=dict(color=c, width=1), marker=dict(symbol="cross", size=3, color=c)))
def main(y, c, w, axis="y"):
    fig.add_trace(go.Scatter(x=steps[:len(y)], y=y, yaxis=axis, mode="lines", showlegend=False, hoverinfo="skip",
                             line=dict(color=c, width=w)))

# snow boxes and flakes
snow_x = SNOW_STEPS
fig.add_trace(go.Bar(x=snow_x, y=[b / PX_PER_DEG for b in SNOW_BAR_PX], base=deg(585), width=1.0,
                     marker=dict(color="#ccffff", line=dict(width=0)), showlegend=False, hoverinfo="skip"))
fig.add_trace(go.Scatter(x=snow_x, y=[deg(588)] * len(snow_x), mode="markers", showlegend=False, hoverinfo="skip",
                         marker=dict(symbol="circle", size=11, color="#6cc4ee", line=dict(width=0))))
fig.add_trace(go.Scatter(x=snow_x, y=[deg(588)] * len(snow_x), mode="markers", showlegend=False, hoverinfo="skip",
                         marker=dict(symbol="asterisk-open", size=9, color="#ffffff", line=dict(width=1, color="#d8f0ff"))))

for i in range(1, 21):
    member(T850_M[i], COLORS[i - 1])
main(T850_GFS, "#000000", 2.5); main(T850_CTRL, "#0000ff", 2.5); main(T850_MEAN, "#ff0000", 4)
for i in range(1, 21):
    member(T500_M[i], COLORS[i - 1])
main(T500_GFS, "#000000", 2.5); main(T500_CTRL, "#0000ff", 2.5); main(T500_MEAN, "#ff0000", 4)
for i in range(1, 21):
    member(RAIN_M[i], COLORS[i - 1], "y2")
main(RAIN_GFS, "#000000", 2, "y2"); main(RAIN_CTRL, "#0000ff", 2, "y2"); main(RAIN_MEAN, "#ff0000", 3.5, "y2")

shapes = []
for v in HEAVY_GRID:
    shapes.append(dict(type="line", xref="paper", yref="y", x0=0, x1=1, y0=v, y1=v, layer="below",
                       line=dict(color="#c0c0c0", width=2)))
shapes.append(dict(type="line", xref="paper", yref="y", x0=0, x1=1, y0=0, y1=0, layer="below",
                   line=dict(color="#808080", width=3)))
def line_px(x0, x1, y, c, w):
    shapes.append(dict(type="line", xref="paper", yref="paper", x0=px(x0), x1=px(x1), y0=py(y), y1=py(y), line=dict(color=c, width=w)))
line_px(35, 66, 637, "#ff0000", 4)
line_px(225, 256, 637, "#0000ff", 4)
line_px(225, 256, 647, "#000000", 4)
shapes.append(dict(type="rect", xref="paper", yref="paper", x0=px(20.5), x1=px(440.5), y0=py(667.5), y1=py(698.5),
                   line=dict(color="#000000", width=1), fillcolor="rgba(0,0,0,0)"))
annotations = []
def text(x, y, s, size=10, bold=False, color="#000000", anchor="left", angle=0, yanchor="middle"):
    annotations.append(dict(xref="paper", yref="paper", x=px(x), y=py(y), text=("<b>%s</b>" % s) if bold else s, showarrow=False,
                            xanchor=anchor, yanchor=yanchor, textangle=angle, borderpad=0,
                            font=dict(family=MONO, size=size, color=color)))
for i in range(20):
    x0 = 470 + 11 * i
    shapes.append(dict(type="rect", xref="paper", yref="paper", x0=px(x0), x1=px(x0 + 10), y0=py(650), y1=py(656),
                       line=dict(width=0), fillcolor=COLORS[i]))
    text(x0 + 5, 644, "%02d" % (i + 1), size=8, bold=True, anchor="center")
# snow legend flake
fig.add_annotation(xref="paper", yref="paper", x=px(60), y=py(658), text="\u2744", showarrow=False,
                   xanchor="center", yanchor="middle", borderpad=0,
                   font=dict(family="DejaVu Sans", size=13, color="#50b8f0"))
for s, pct in zip(SNOW_STEPS, SNOW_PCT):
    annotations.append(dict(xref="x", yref="y", x=s, y=deg(581), text="<b>%d%%</b>" % pct, showarrow=False, textangle=-90,
                            xanchor="center", yanchor="bottom", borderpad=0,
                            font=dict(family=MONO, size=8.5, color="#0000ff")))
text(60, 158, "Temp. 850hPa")
text(60, 365, "Temp. 500hPa")
text(60, 460, "Précipitations")
text(20, 606, "(°C)")
text(711, 606, "(mm)")
text(75, 637, "Moyenne des scénarios")
text(264, 637, "Run de contrôle")
text(264, 647, "Run GFS")
text(75, 659, "Risque neige")
text(180, 660, "Altitude du modele : 1226m")
text(370, 652, "20 Perturbations")
text(30, 677, "Diagramme des ensembles GEFS sur 384h pour Afyonkarahisar", size=11.6, bold=True)
text(30, 692, "Températures 850hPa et 500hPa (°C) , précipitations (mm)")
text(450, 672, "Ensemble GEFS du 19/11/2017 - 18Z")
text(450, 692, "Copyright 2017 Meteociel.fr", size=11.6, bold=True)
for a in annotations:
    fig.add_annotation(**a)

# Labels are left aligned in the original: pad them on the right in the monospaced font
left_text = [str(v).ljust(3, "\u00a0") for v in LEFT_TICKS]
right_text = [str(v).ljust(2, "\u00a0") for v in RIGHT_TICKS]

fig.update_layout(
    width=740, height=700, autosize=False, margin=dict(l=50, r=50, t=0, b=100),
    paper_bgcolor="#ffffff", plot_bgcolor="#ffffff", font=dict(family=MONO, size=10, color="#000000"),
    showlegend=False, shapes=shapes, barmode="overlay",
    xaxis=dict(range=[0, 64], tickmode="array", tickvals=DAY_STEPS, ticktext=DAY_LABELS, tickangle=-90,
               ticklabelshift=8, ticks="", showgrid=True, gridcolor="#c0c0c0", gridwidth=1, zeroline=False,
               showline=True, linecolor="#000000", linewidth=1.5, tickfont=dict(family=MONO, size=10)),
    yaxis=dict(range=[deg(600), deg(0)], tickmode="array", tickvals=LEFT_TICKS, ticktext=left_text, showgrid=True, gridcolor="#c0c0c0", gridwidth=1,
               zeroline=False, showline=True, linecolor="#000000", linewidth=1, ticks="", ticklen=0, tickfont=dict(family=MONO, size=10),
               ticklabelstandoff=9, ticklabelshift=3),
    yaxis2=dict(range=[deg(600) + 45, deg(0) + 45], overlaying="y", side="right", tickmode="array", tickvals=RIGHT_TICKS, ticktext=right_text,
                showgrid=False, zeroline=False, showline=True, linecolor="#000000", linewidth=1, ticks="",
                tickfont=dict(family=MONO, size=10), ticklabelstandoff=17, ticklabelshift=3),
)
fig.write_html("out.html", config={"displayModeBar": False}, post_script="document.body.style.margin='0';document.body.style.overflow='hidden';")
